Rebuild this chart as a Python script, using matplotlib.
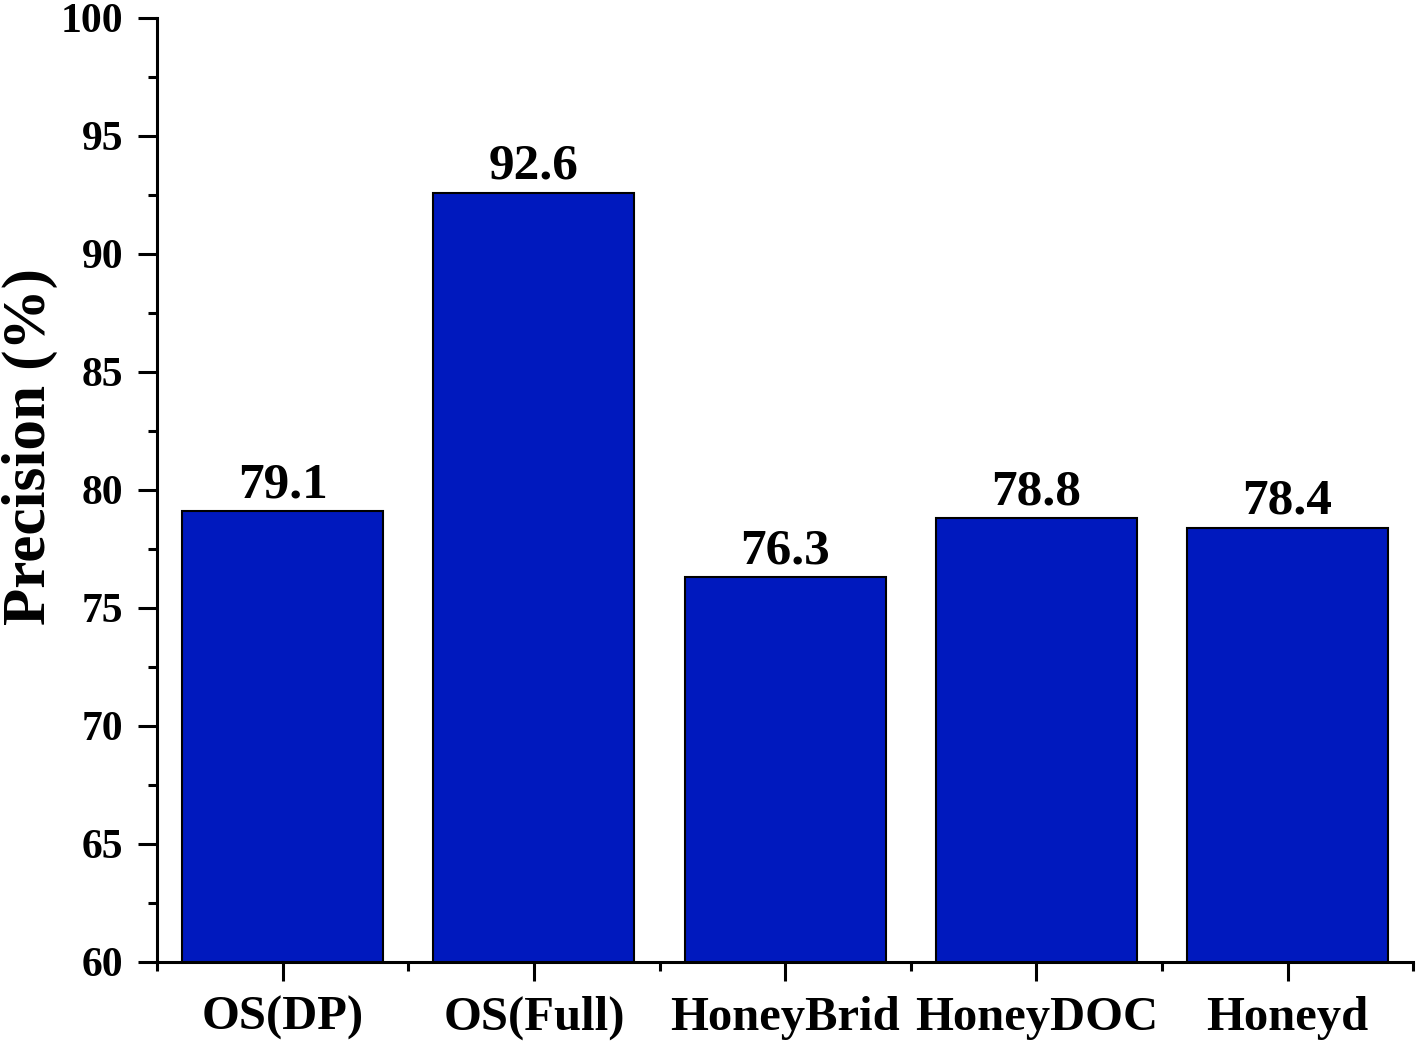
import matplotlib
matplotlib.use("Agg")
import matplotlib.pyplot as plt
from matplotlib.ticker import MultipleLocator

plt.rcParams['font.family'] = ['Liberation Serif', 'DejaVu Serif']
plt.rcParams['font.weight'] = 'bold'

methods = ['OS(DP)', 'OS(Full)', 'HoneyBrid', 'HoneyDOC', 'Honeyd']
precision = [79.1, 92.6, 76.3, 78.8, 78.4]
pos = [1, 2, 3, 4, 5]

fig = plt.figure(figsize=(14.16, 10.42), dpi=100)
ax = fig.add_axes([0.111, 0.0768, 0.887, 0.906])

bars = ax.bar(pos, precision, width=0.8, color='#0019BE', edgecolor='black', linewidth=1.5)
for x, v in zip(pos, precision):
    ax.annotate(f'{v:.1f}', (x, v), xytext=(0, 2), textcoords='offset points',
                ha='center', va='bottom', fontsize=37, fontweight='bold')

ax.set_ylim(60, 100)
ax.set_xlim(0.5, 5.5)
ax.yaxis.set_major_locator(MultipleLocator(5))
ax.yaxis.set_minor_locator(MultipleLocator(2.5))
ax.set_xticks(pos)
ax.set_xticklabels(methods)
ax.set_xticks([0.5, 1.5, 2.5, 3.5, 4.5, 5.5], minor=True)

ax.spines['top'].set_visible(False)
ax.spines['right'].set_visible(False)
ax.spines['left'].set_linewidth(2.2)
ax.spines['bottom'].set_linewidth(2.2)
ax.tick_params(axis='both', which='major', direction='out', length=13.5, width=2.2)
ax.tick_params(axis='both', which='minor', direction='out', length=6.5, width=2.2)
ax.tick_params(axis='y', labelsize=30, pad=11)
ax.tick_params(axis='x', labelsize=35, pad=11)

ax.set_ylabel('Precision (%)', fontsize=44, fontweight='bold')
ax.yaxis.set_label_coords(-0.079, 0.5455)

fig.savefig('out.png', dpi=100)
